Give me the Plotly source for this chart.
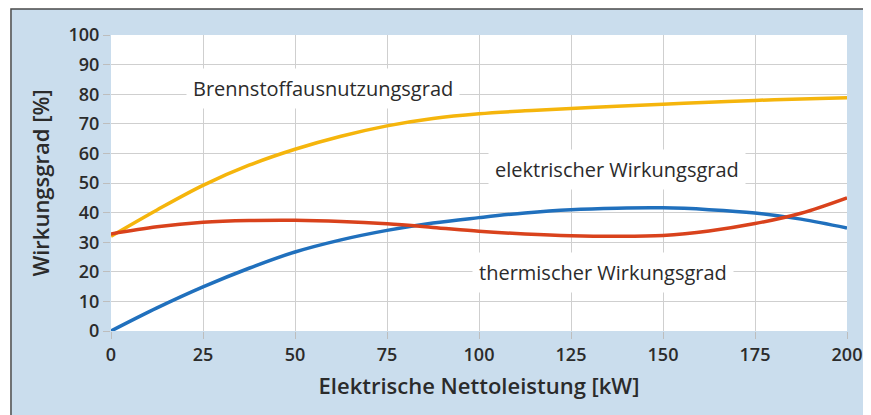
import plotly.graph_objects as go

leistung_kw = [0, 12.5, 25, 37.5, 50, 62.5, 75, 87.5, 100, 112.5, 125, 137.5, 150, 162.5, 175, 187.5, 200]
brennstoffausnutzung = [32.0, 40.9, 49.2, 56.0, 61.4, 65.8, 69.3, 71.8, 73.4, 74.4, 75.2, 75.9, 76.6, 77.3, 77.9, 78.4, 78.8]
elektrisch = [32.8, 35.2, 36.7, 37.3, 37.4, 37.0, 36.2, 35.0, 33.7, 32.8, 32.2, 32.0, 32.3, 33.8, 36.3, 39.8, 45.0]
thermisch = [0.0, 7.8, 14.9, 21.2, 26.7, 30.8, 34.0, 36.5, 38.3, 39.9, 41.0, 41.5, 41.6, 41.0, 39.9, 37.8, 34.8]

x_ticks = [0, 25, 50, 75, 100, 125, 150, 175, 200]
y_ticks = [0, 10, 20, 30, 40, 50, 60, 70, 80, 90, 100]

labels = ["Brennstoffausnutzungsgrad", "elektrischer Wirkungsgrad", "thermischer Wirkungsgrad"]
label_pos_x = [57.6, 137.5, 133.7]
label_pos_y = [81.8, 54.4, 19.9]

FONT = "Open Sans"
TXT = "#2b2b2b"
BG = "#cadded"

fig = go.Figure()
fig.add_trace(go.Scatter(x=leistung_kw, y=brennstoffausnutzung, mode="lines",
                         line=dict(color="#f5b50c", width=3.5, shape="spline"), hoverinfo="skip"))
fig.add_trace(go.Scatter(x=leistung_kw, y=thermisch, mode="lines",
                         line=dict(color="#2070bd", width=3.5, shape="spline"), hoverinfo="skip"))
fig.add_trace(go.Scatter(x=leistung_kw, y=elektrisch, mode="lines",
                         line=dict(color="#d9421c", width=3.5, shape="spline"), hoverinfo="skip"))

for t, lx, ly in zip(labels, label_pos_x, label_pos_y):
    fig.add_annotation(x=lx, y=ly, text=t, showarrow=False, xref="x", yref="y",
                       font=dict(family=FONT, size=20, color=TXT),
                       bgcolor="white", borderpad=6)

# blue frame background and white plot area
fig.add_shape(type="rect", xref="paper", yref="paper", x0=-0.1359, x1=1.2, y0=-0.5, y1=1.0878,
              fillcolor=BG, line=dict(color="#4a4a4a", width=1.5), layer="below")
fig.add_shape(type="rect", xref="paper", yref="paper", x0=0, x1=1, y0=0, y1=1,
              fillcolor="white", line=dict(width=0), layer="below")

fig.update_layout(
    width=863, height=407,
    margin=dict(l=103, r=24, t=27, b=84, autoexpand=False),
    paper_bgcolor="white", plot_bgcolor="white",
    showlegend=False,
    font=dict(family=FONT, color=TXT),
)
fig.update_xaxes(range=[0, 200], tickvals=x_ticks, showgrid=True, gridcolor="#cfcfcf", gridwidth=1,
                 zeroline=False, showline=False, ticks="outside", ticklen=7, tickcolor="#bdbdbd",
                 automargin=False,
                 tickfont=dict(family=FONT, size=18, color=TXT, weight=600),
                 title=dict(text="Elektrische Nettoleistung [kW]", standoff=14,
                            font=dict(family=FONT, size=22, color=TXT, weight=600)))
fig.update_yaxes(range=[0, 100], tickvals=y_ticks, showgrid=True, gridcolor="#cfcfcf", gridwidth=1,
                 zeroline=False, showline=False, ticks="outside", ticklen=7, tickcolor="#bdbdbd",
                 automargin=False,
                 tickfont=dict(family=FONT, size=18, color=TXT, weight=600),
                 title=dict(text="Wirkungsgrad [%]", standoff=12,
                            font=dict(family=FONT, size=22, color=TXT, weight=600)))

fig.write_html("out.html")
